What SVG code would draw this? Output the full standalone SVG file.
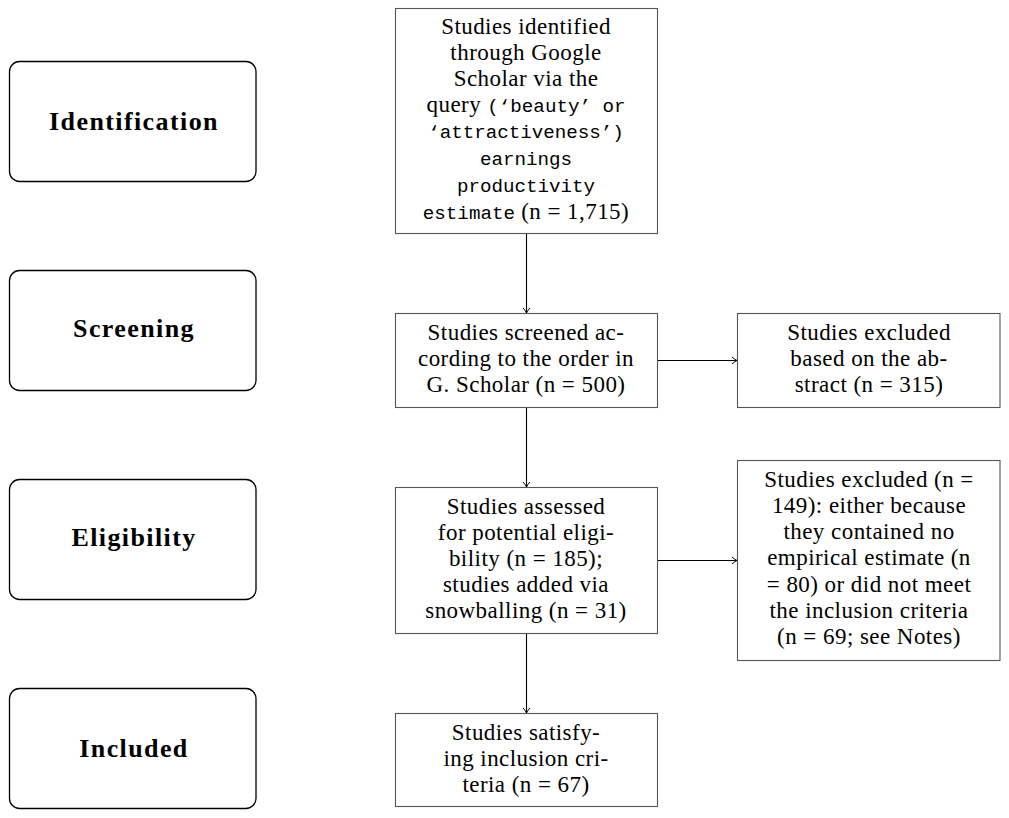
<svg xmlns="http://www.w3.org/2000/svg" width="1009" height="818" viewBox="0 0 1009 818">
<defs>
<style>
.stage{fill:#fff;stroke:#000;stroke-width:1.3}
.box{fill:#fff;stroke:#555;stroke-width:1.1}
.t{font-family:"Liberation Serif","DejaVu Serif",serif;font-size:23px;letter-spacing:0.45px;fill:#000;text-anchor:middle}
.b{font-family:"Liberation Serif","DejaVu Serif",serif;font-size:26px;letter-spacing:1.4px;font-weight:bold;fill:#000;text-anchor:middle}
.m{font-family:"Liberation Mono","DejaVu Sans Mono",monospace;font-size:19.2px;letter-spacing:0}
.c{fill:none;stroke:#000;stroke-width:1.1}
</style>
<marker id="ah" markerWidth="10" markerHeight="10" refX="7" refY="5" orient="auto" markerUnits="userSpaceOnUse">
<path d="M2,1.5 Q4.5,4 7,5 Q4.5,6 2,8.5" fill="none" stroke="#000" stroke-width="1"/>
</marker>
</defs>
<rect width="1009" height="818" fill="#fff"/>
<g id="identification">
<rect class="stage" x="9.5" y="61.5" width="246.5" height="120" rx="10"/>
<text class="b" x="134" y="130">Identification</text>
</g>
<g id="screening">
<rect class="stage" x="9.5" y="270.5" width="246.5" height="120" rx="10"/>
<text class="b" x="134" y="337">Screening</text>
</g>
<g id="eligibility">
<rect class="stage" x="9.5" y="479.5" width="246.5" height="120" rx="10"/>
<text class="b" x="134" y="546">Eligibility</text>
</g>
<g id="included">
<rect class="stage" x="9.5" y="688.5" width="246.5" height="120" rx="10"/>
<text class="b" x="134" y="757">Included</text>
</g>
<g id="identified">
<rect class="box" x="395.5" y="8.5" width="262" height="225"/>
<text class="t" x="526" y="34">Studies identified</text>
<text class="t" x="526" y="60">through Google</text>
<text class="t" x="526" y="86">Scholar via the</text>
<text class="t" x="526" y="112">query <tspan class="m">(‘beauty’ or</tspan></text>
<text class="t m" x="526" y="138">‘attractiveness’)</text>
<text class="t m" x="526" y="165">earnings</text>
<text class="t m" x="526" y="192">productivity</text>
<text class="t" x="526" y="219"><tspan class="m">estimate</tspan> (n = 1,715)</text>
</g>
<g id="screened">
<rect class="box" x="395.5" y="313.5" width="262" height="94"/>
<text class="t" x="526" y="340">Studies screened ac-</text>
<text class="t" x="526" y="366">cording to the order in</text>
<text class="t" x="526" y="392">G. Scholar (n = 500)</text>
</g>
<g id="excluded-abstract">
<rect class="box" x="737.5" y="313.5" width="262.5" height="94"/>
<text class="t" x="869" y="340">Studies excluded</text>
<text class="t" x="869" y="366">based on the ab-</text>
<text class="t" x="869" y="392">stract (n = 315)</text>
</g>
<g id="assessed">
<rect class="box" x="395.5" y="487.5" width="262" height="146"/>
<text class="t" x="526" y="514">Studies assessed</text>
<text class="t" x="526" y="540">for potential eligi-</text>
<text class="t" x="526" y="566">bility (n = 185);</text>
<text class="t" x="526" y="592">studies added via</text>
<text class="t" x="526" y="618">snowballing (n = 31)</text>
</g>
<g id="excluded-149">
<rect class="box" x="737.5" y="460.5" width="262.5" height="200"/>
<text class="t" x="869" y="487">Studies excluded (n =</text>
<text class="t" x="869" y="513">149): either because</text>
<text class="t" x="869" y="539">they contained no</text>
<text class="t" x="869" y="565">empirical estimate (n</text>
<text class="t" x="869" y="592">= 80) or did not meet</text>
<text class="t" x="869" y="618">the inclusion criteria</text>
<text class="t" x="869" y="644">(n = 69; see Notes)</text>
</g>
<g id="satisfying">
<rect class="box" x="395.5" y="713.5" width="262" height="93"/>
<text class="t" x="526" y="740">Studies satisfy-</text>
<text class="t" x="526" y="766">ing inclusion cri-</text>
<text class="t" x="526" y="792">teria (n = 67)</text>
</g>
<g id="connectors">
<line class="c" x1="526.5" y1="234" x2="526.5" y2="313" marker-end="url(#ah)"/>
<line class="c" x1="526.5" y1="408" x2="526.5" y2="487" marker-end="url(#ah)"/>
<line class="c" x1="526.5" y1="634" x2="526.5" y2="713" marker-end="url(#ah)"/>
<line class="c" x1="658" y1="360.5" x2="737" y2="360.5" marker-end="url(#ah)"/>
<line class="c" x1="658" y1="560.5" x2="737" y2="560.5" marker-end="url(#ah)"/>
</g>
</svg>
